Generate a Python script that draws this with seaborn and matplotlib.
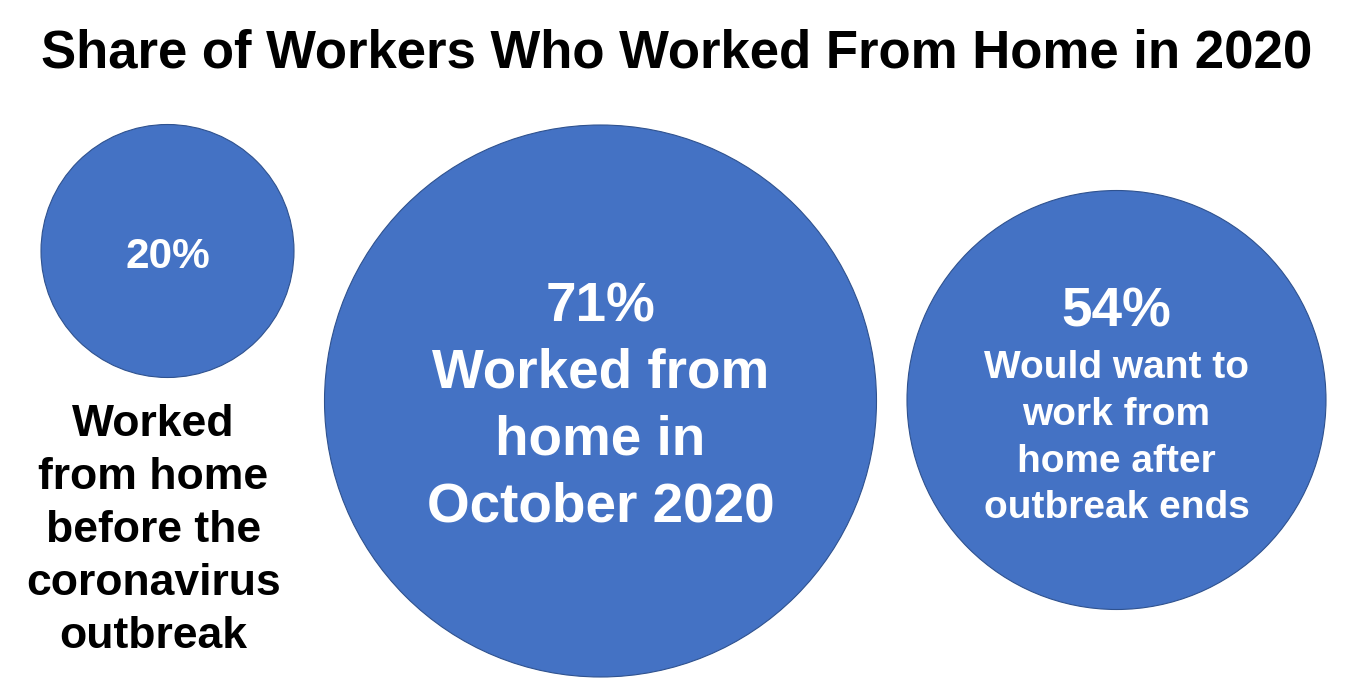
import numpy as np
import pandas as pd
import matplotlib
matplotlib.use("Agg")
import matplotlib.pyplot as plt
import seaborn as sns

# --- chart data ---
title = "Share of Workers Who Worked From Home in 2020"
values = [20, 71, 54]
value_labels = ["20%", "71%", "54%"]
descriptions = [
    "Worked\nfrom home\nbefore the\ncoronavirus\noutbreak",
    "Worked from\nhome in\nOctober 2020",
    "Would want to\nwork from\nhome after\noutbreak ends",
]

# --- layout (pixel space of a 1350x689 canvas) ---
W, H, DPI = 1350, 689, 100
centers_x = [167.5, 600.5, 1116.5]
centers_y = [251, 401, 400]
radii_px = [126.5, 276, 209.5]          # bubble radius as drawn in the source
fill = "#4472C4"
edge = "#2F528F"

sns.set_theme(style="white")
plt.rcParams["font.family"] = ["Liberation Sans", "DejaVu Sans"]
plt.rcParams["font.weight"] = "bold"

fig = plt.figure(figsize=(W / DPI, H / DPI), dpi=DPI)
ax = fig.add_axes([0, 0, 1, 1])

df = pd.DataFrame({"x": centers_x, "y": centers_y, "value": values})
px_to_pt = 72 / DPI
marker_area = [(2 * r * px_to_pt) ** 2 for r in radii_px]
sns.scatterplot(data=df, x="x", y="y", s=marker_area, color=fill,
                edgecolor=edge, linewidth=0.8, legend=False, ax=ax)

ax.set_xlim(0, W)
ax.set_ylim(H, 0)
ax.set_axis_off()

ax.text(676.5, 68, title, ha="center", va="baseline", fontsize=38,
        fontweight="bold", color="black")

# bubble 1: value inside, description underneath in black
ax.text(167.5, 267.5, value_labels[0], ha="center", va="baseline",
        fontsize=30.5, fontweight="bold", color="white")
for i, line in enumerate(descriptions[0].split("\n")):
    ax.text(153.5, 436.5 + i * 52.8, line, ha="center", va="baseline",
            fontsize=32, fontweight="bold", color="black")

# bubble 2
ax.text(600.5, 321.5, value_labels[1], ha="center", va="baseline",
        fontsize=39.5, fontweight="bold", color="white")
for i, line in enumerate(descriptions[1].split("\n")):
    ax.text(600.5, 388 + i * 66.8, line, ha="center", va="baseline",
            fontsize=39.5, fontweight="bold", color="white")

# bubble 3
ax.text(1116.5, 326.5, value_labels[2], ha="center", va="baseline",
        fontsize=39.5, fontweight="bold", color="white")
for i, line in enumerate(descriptions[2].split("\n")):
    ax.text(1116.5, 378.3 + i * 46.6, line, ha="center", va="baseline",
            fontsize=28, fontweight="bold", color="white")

fig.savefig("out.png", dpi=DPI, facecolor="white")
